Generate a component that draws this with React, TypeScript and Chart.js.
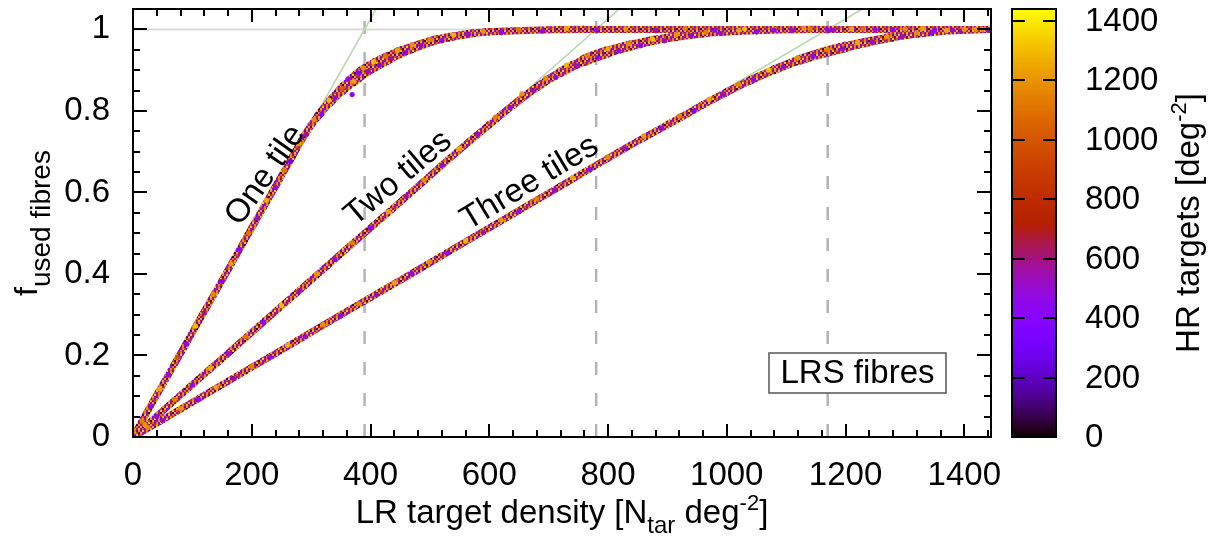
import React, { useEffect, useRef } from "react";
import { Chart, registerables } from "chart.js";

Chart.register(...registerables);

const FONT = "'Liberation Sans', Arial, Helvetica, sans-serif";

const xMax = 1445;
const yMax = 1.05;
const hrMax = 1440;

const xTickValues = [0, 200, 400, 600, 800, 1000, 1200, 1400];
const yTickValues = [0, 0.2, 0.4, 0.6, 0.8, 1];
const hrTickValues = [0, 200, 400, 600, 800, 1000, 1200, 1400];

const tileNames = ["One tile", "Two tiles", "Three tiles"];
const tileLimits = [390, 780, 1170];
const labelX = [223, 447, 668];
const labelY = [0.642, 0.635, 0.623];
const labelAngle = [55, 40, 31];

// central tracks of the three point clouds
const oneTileX = [0, 40, 80, 120, 160, 200, 240, 270, 290, 310, 330, 350, 370, 390, 410, 430, 450, 470, 490, 510, 540, 570, 600, 650, 700, 760, 850, 1000, 1150, 1300, 1445];
const oneTileY = [0, 0.103, 0.205, 0.308, 0.41, 0.513, 0.615, 0.692, 0.743, 0.785, 0.82, 0.85, 0.875, 0.898, 0.915, 0.93, 0.944, 0.955, 0.965, 0.974, 0.983, 0.99, 0.994, 0.997, 0.999, 1, 1, 1, 1, 1, 1];

const twoTilesX = [0, 60, 120, 180, 240, 300, 360, 420, 480, 540, 600, 640, 680, 720, 760, 800, 840, 880, 920, 960, 1000, 1050, 1100, 1150, 1250, 1350, 1445];
const twoTilesY = [0, 0.077, 0.154, 0.231, 0.308, 0.385, 0.462, 0.538, 0.615, 0.692, 0.766, 0.814, 0.858, 0.895, 0.924, 0.945, 0.961, 0.974, 0.983, 0.99, 0.994, 0.997, 0.999, 1, 1, 1, 1];

const threeTilesX = [0, 80, 160, 240, 320, 400, 480, 560, 640, 720, 800, 860, 920, 960, 1000, 1040, 1080, 1120, 1160, 1200, 1240, 1280, 1320, 1360, 1400, 1445];
const threeTilesY = [0, 0.068, 0.137, 0.205, 0.274, 0.342, 0.41, 0.479, 0.547, 0.615, 0.684, 0.734, 0.782, 0.815, 0.846, 0.875, 0.901, 0.924, 0.942, 0.957, 0.97, 0.981, 0.989, 0.995, 0.998, 1];

// individual sampled points (LR density, used-fibre fraction, HR density)
const oneSampleX = [15, 30, 45, 60, 75, 90, 105, 120, 135, 150, 165, 180, 195, 210, 225, 240, 255, 265, 280, 292, 305, 318, 330, 340, 352, 362, 369, 372, 380, 388, 396, 405, 415, 425, 435, 445, 458, 470, 485, 500, 520, 540, 565, 590, 620, 650, 690, 730, 780, 830, 880, 930, 980, 1030, 1080, 1130, 1180, 1230, 1280, 1330, 1380, 1430];
const oneSampleY = [0.04, 0.075, 0.118, 0.152, 0.195, 0.228, 0.272, 0.305, 0.35, 0.382, 0.425, 0.46, 0.5, 0.537, 0.58, 0.612, 0.655, 0.676, 0.72, 0.742, 0.778, 0.792, 0.826, 0.832, 0.855, 0.878, 0.84, 0.872, 0.893, 0.905, 0.897, 0.92, 0.912, 0.935, 0.928, 0.948, 0.942, 0.962, 0.96, 0.975, 0.972, 0.986, 0.988, 0.995, 0.992, 0.999, 0.996, 1.002, 0.998, 1.001, 0.997, 1.002, 0.998, 1.001, 0.998, 1.002, 0.998, 1.001, 0.999, 1.002, 0.998, 1.0];
const oneSampleHR = [1150, 480, 1250, 520, 980, 430, 1300, 600, 1180, 450, 1220, 380, 1100, 520, 1260, 470, 1150, 300, 1230, 560, 1180, 420, 1290, 510, 1020, 460, 420, 1240, 350, 1180, 560, 1300, 480, 1100, 600, 1250, 420, 1200, 520, 1150, 450, 1280, 500, 1200, 450, 1100, 520, 1250, 430, 1200, 560, 1150, 480, 1300, 450, 1200, 520, 1100, 460, 1250, 500, 1200];

const twoSampleX = [20, 40, 70, 100, 130, 160, 190, 220, 250, 280, 310, 340, 370, 400, 430, 460, 490, 520, 550, 580, 610, 635, 655, 675, 695, 712, 730, 748, 765, 782, 800, 818, 835, 855, 875, 895, 915, 940, 965, 990, 1020, 1050, 1080, 1110, 1140, 1170, 1210, 1250, 1300, 1350, 1400, 1440];
const twoSampleY = [0.03, 0.05, 0.092, 0.128, 0.168, 0.204, 0.246, 0.282, 0.322, 0.358, 0.4, 0.436, 0.476, 0.512, 0.553, 0.59, 0.63, 0.666, 0.707, 0.743, 0.784, 0.808, 0.842, 0.85, 0.88, 0.882, 0.912, 0.91, 0.935, 0.93, 0.952, 0.948, 0.965, 0.96, 0.976, 0.972, 0.987, 0.984, 0.993, 0.99, 0.998, 0.994, 1.0, 0.997, 1.001, 0.998, 1.001, 0.999, 1.001, 0.998, 1.0, 0.999];
const twoSampleHR = [1200, 500, 1150, 450, 1250, 520, 1100, 430, 1300, 560, 1200, 480, 1150, 400, 1240, 540, 1180, 460, 1260, 500, 1150, 420, 1220, 560, 1180, 450, 1280, 520, 1150, 380, 1250, 500, 1180, 460, 1300, 540, 1200, 470, 1150, 520, 1240, 450, 1200, 500, 1150, 430, 1250, 520, 1180, 470, 1200, 500];

const threeSampleX = [25, 50, 80, 110, 140, 170, 200, 230, 260, 290, 320, 350, 380, 410, 440, 470, 500, 530, 560, 590, 620, 650, 680, 710, 740, 770, 800, 830, 860, 890, 920, 945, 970, 995, 1020, 1045, 1070, 1095, 1120, 1145, 1170, 1195, 1220, 1245, 1270, 1295, 1320, 1345, 1370, 1395, 1420, 1440];
const threeSampleY = [0.024, 0.04, 0.07, 0.092, 0.122, 0.143, 0.172, 0.195, 0.225, 0.246, 0.276, 0.297, 0.327, 0.349, 0.378, 0.4, 0.43, 0.451, 0.481, 0.502, 0.532, 0.553, 0.584, 0.605, 0.636, 0.656, 0.687, 0.707, 0.738, 0.757, 0.787, 0.8, 0.828, 0.84, 0.866, 0.875, 0.9, 0.908, 0.93, 0.933, 0.95, 0.952, 0.968, 0.968, 0.982, 0.982, 0.992, 0.991, 0.997, 0.996, 1.0, 0.999];
const threeSampleHR = [1180, 520, 1200, 450, 1250, 540, 1150, 430, 1280, 500, 1200, 460, 1150, 520, 1240, 480, 1180, 420, 1300, 540, 1200, 460, 1150, 500, 1250, 450, 1180, 520, 1220, 470, 1150, 400, 1260, 540, 1180, 460, 1300, 520, 1200, 450, 1150, 500, 1250, 480, 1200, 520, 1180, 450, 1250, 500, 1200, 480];

// HR densities used for the speckled texture of the dense point bands
const speckleHR = [480, 1200, 950, 120, 1250, 560, 1150, 420, 1320, 700, 1050, 450, 1180, 620, 80, 1220, 500, 880, 1300, 380, 1100, 540, 1240, 160, 460, 1180, 760, 1280, 430, 1000, 600, 1150, 250, 1210, 520, 1350];

const palette = (v: number) => {
  const t = Math.min(1, Math.max(0, v / hrMax));
  const r = Math.sqrt(t);
  const g = t * t * t;
  const b = Math.max(0, Math.sin(2 * Math.PI * t));
  return `rgb(${Math.round(r * 255)},${Math.round(g * 255)},${Math.round(b * 255)})`;
};

const zip = (xs: number[], ys: number[]) => xs.map((x, i) => ({ x, y: ys[i] }));

type Part = [string, number, number];
function drawRich(ctx: CanvasRenderingContext2D, parts: Part[], x: number, y: number) {
  let total = 0;
  for (const p of parts) {
    ctx.font = `${p[1]}px ${FONT}`;
    total += ctx.measureText(p[0]).width;
  }
  let cx = x - total / 2;
  ctx.textAlign = "left";
  ctx.textBaseline = "alphabetic";
  for (const p of parts) {
    ctx.font = `${p[1]}px ${FONT}`;
    ctx.fillText(p[0], cx, y + p[2]);
    cx += ctx.measureText(p[0]).width;
  }
}

const decorPlugin = {
  id: "decor",
  afterDraw(chart: any) {
    const ctx: CanvasRenderingContext2D = chart.ctx;
    const { left, right, top, bottom } = chart.chartArea;
    const xs = chart.scales.x;
    const ys = chart.scales.y;
    ctx.save();
    ctx.fillStyle = "#000";
    ctx.strokeStyle = "#000";

    // tile annotations
    for (let i = 0; i < tileNames.length; i++) {
      ctx.save();
      ctx.translate(xs.getPixelForValue(labelX[i]), ys.getPixelForValue(labelY[i]));
      ctx.rotate((-labelAngle[i] * Math.PI) / 180);
      ctx.font = `33px ${FONT}`;
      ctx.textAlign = "center";
      ctx.textBaseline = "middle";
      ctx.fillText(tileNames[i], 0, 0);
      ctx.restore();
    }

    // LRS box
    const bx = right - 222, by = bottom - 84, bw = 177, bh = 40;
    ctx.fillStyle = "#fff";
    ctx.fillRect(bx, by, bw, bh);
    ctx.strokeStyle = "#555";
    ctx.lineWidth = 1.5;
    ctx.strokeRect(bx, by, bw, bh);
    ctx.fillStyle = "#000";
    ctx.font = `33px ${FONT}`;
    ctx.textAlign = "center";
    ctx.textBaseline = "middle";
    ctx.fillText("LRS fibres", bx + bw / 2, by + bh / 2 + 1);

    // frame
    ctx.strokeStyle = "#000";
    ctx.lineWidth = 2;
    ctx.strokeRect(left, top, right - left, bottom - top);

    // ticks (inward, mirrored)
    ctx.lineWidth = 2;
    ctx.beginPath();
    for (let v = 40; v < xMax; v += 40) {
      const px = Math.round(xs.getPixelForValue(v));
      const len = v % 200 === 0 ? 13 : 7;
      ctx.moveTo(px, bottom);
      ctx.lineTo(px, bottom - len);
      ctx.moveTo(px, top);
      ctx.lineTo(px, top + len);
    }
    for (let i = 1; i * 0.05 < yMax - 0.001; i++) {
      const py = Math.round(ys.getPixelForValue(i * 0.05));
      const len = i % 4 === 0 ? 14 : 7;
      ctx.moveTo(left, py);
      ctx.lineTo(left + len, py);
      ctx.moveTo(right, py);
      ctx.lineTo(right - len, py);
    }
    ctx.stroke();

    // x title
    ctx.fillStyle = "#000";
    drawRich(ctx, [["LR target density [N", 33, 0], ["tar", 24, 10], [" deg", 33, 0], ["-2", 22, -13], ["]", 33, 0]], (left + right) / 2, 523);

    // y title
    ctx.save();
    ctx.translate(37, (top + bottom) / 2);
    ctx.rotate(-Math.PI / 2);
    drawRich(ctx, [["f", 32, 0], ["used fibres", 28, 13]], 0, 0);
    ctx.restore();

    // colour bar
    const cl = right + 21, cw = 44;
    const h = bottom - top;
    for (let yy = top; yy < bottom; yy++) {
      const v = (hrMax * (bottom - yy - 0.5)) / h;
      ctx.fillStyle = palette(v);
      ctx.fillRect(cl, yy, cw, 1);
    }
    ctx.strokeStyle = "#000";
    ctx.lineWidth = 2;
    ctx.strokeRect(cl, top, cw, h);
    ctx.beginPath();
    ctx.fillStyle = "#000";
    ctx.font = `33px ${FONT}`;
    ctx.textAlign = "left";
    ctx.textBaseline = "middle";
    for (const v of hrTickValues) {
      const py = Math.round(bottom - (v / hrMax) * h);
      ctx.moveTo(cl, py);
      ctx.lineTo(cl + 13, py);
      ctx.moveTo(cl + cw - 13, py);
      ctx.lineTo(cl + cw, py);
      ctx.fillText(String(v), cl + 73, py + 1);
    }
    ctx.stroke();

    ctx.save();
    ctx.translate(1199, (top + bottom) / 2);
    ctx.rotate(-Math.PI / 2);
    drawRich(ctx, [["HR targets [deg", 33, 0], ["-2", 22, -13], ["]", 33, 0]], 0, 0);
    ctx.restore();

    ctx.restore();
  },
};

export default function App() {
  const canvasRef = useRef<HTMLCanvasElement | null>(null);

  useEffect(() => {
    const canvas = canvasRef.current;
    if (!canvas) return;
    const ctx2d = canvas.getContext("2d")!;

    const tile = document.createElement("canvas");
    tile.width = 12;
    tile.height = 12;
    const tctx = tile.getContext("2d")!;
    speckleHR.forEach((v, i) => {
      tctx.fillStyle = palette(v);
      tctx.fillRect((i % 6) * 2, Math.floor(i / 6) * 2, 2, 2);
    });
    const pattern = ctx2d.createPattern(tile, "repeat");

    const bandWidth = (limit: number) => (c: any) => {
      const mx = (c.p0.parsed.x + c.p1.parsed.x) / 2;
      const my = (c.p0.parsed.y + c.p1.parsed.y) / 2;
      const d = Math.max(0, Math.min(mx / limit, 1) - my);
      return 7 + Math.min(6, d * 70);
    };

    const band = (xs: number[], ys: number[], limit: number) => ({
      type: "line" as const,
      data: zip(xs, ys),
      borderColor: pattern,
      borderWidth: 7,
      borderCapStyle: "round",
      borderJoinStyle: "round",
      cubicInterpolationMode: "monotone",
      pointRadius: 0,
      segment: { borderWidth: bandWidth(limit) },
      order: 5,
    });

    const samples = (xs: number[], ys: number[], hr: number[]) => ({
      type: "scatter" as const,
      data: zip(xs, ys),
      backgroundColor: hr.map(palette),
      borderColor: hr.map(palette),
      borderWidth: 0.8,
      pointRadius: 2.3,
      order: 1,
    });

    const guides = tileLimits.map((lim) => ({
      type: "line" as const,
      data: [{ x: 0, y: 0 }, { x: lim * yMax, y: yMax }],
      borderColor: "#b9d8b4",
      borderWidth: 1.6,
      pointRadius: 0,
      order: 8,
    }));

    const dashes = tileLimits.map((lim) => ({
      type: "line" as const,
      data: [{ x: lim, y: 0 }, { x: lim, y: yMax }],
      borderColor: "#b4b4b4",
      borderWidth: 2.5,
      borderDash: [13, 18],
      pointRadius: 0,
      order: 9,
    }));

    const unity = {
      type: "line" as const,
      data: [{ x: 0, y: 1 }, { x: xMax, y: 1 }],
      borderColor: "#dadada",
      borderWidth: 2,
      pointRadius: 0,
      order: 10,
    };

    const chart = new Chart(canvas, {
      type: "scatter",
      data: {
        datasets: [
          samples(oneSampleX, oneSampleY, oneSampleHR),
          samples(twoSampleX, twoSampleY, twoSampleHR),
          samples(threeSampleX, threeSampleY, threeSampleHR),
          band(oneTileX, oneTileY, tileLimits[0]),
          band(twoTilesX, twoTilesY, tileLimits[1]),
          band(threeTilesX, threeTilesY, tileLimits[2]),
          ...guides,
          ...dashes,
          unity,
        ] as any,
      },
      options: {
        animation: false,
        responsive: true,
        maintainAspectRatio: false,
        layout: { padding: { top: 9, right: 218, left: 0, bottom: 0 } },
        plugins: { legend: { display: false }, tooltip: { enabled: false } },
        scales: {
          x: {
            type: "linear",
            min: 0,
            max: xMax,
            afterFit: (s: any) => {
              s.height = 101;
              s.paddingLeft = 0;
              s.paddingRight = 0;
            },
            afterBuildTicks: (s: any) => {
              s.ticks = xTickValues.map((v) => ({ value: v }));
            },
            ticks: {
              font: { family: FONT, size: 33 },
              color: "#000",
              padding: 19,
              maxRotation: 0,
              autoSkip: false,
              callback: (v: any) => String(v),
            },
            grid: { display: false, drawTicks: false },
            border: { display: false },
          },
          y: {
            type: "linear",
            min: 0,
            max: yMax,
            afterFit: (s: any) => {
              s.width = 133;
              s.paddingTop = 0;
              s.paddingBottom = 0;
            },
            afterBuildTicks: (s: any) => {
              s.ticks = yTickValues.map((v) => ({ value: v }));
            },
            ticks: {
              font: { family: FONT, size: 33 },
              color: "#000",
              padding: 23,
              autoSkip: false,
              callback: (v: any) => String(Math.round(Number(v) * 10) / 10),
            },
            grid: { display: false, drawTicks: false },
            border: { display: false },
          },
        },
      },
      plugins: [decorPlugin],
    });

    return () => chart.destroy();
  }, []);

  return (
    <div style={{ position: "fixed", left: 0, top: 0, width: 1209, height: 538, background: "#fff" }}>
      <canvas ref={canvasRef} />
    </div>
  );
}
